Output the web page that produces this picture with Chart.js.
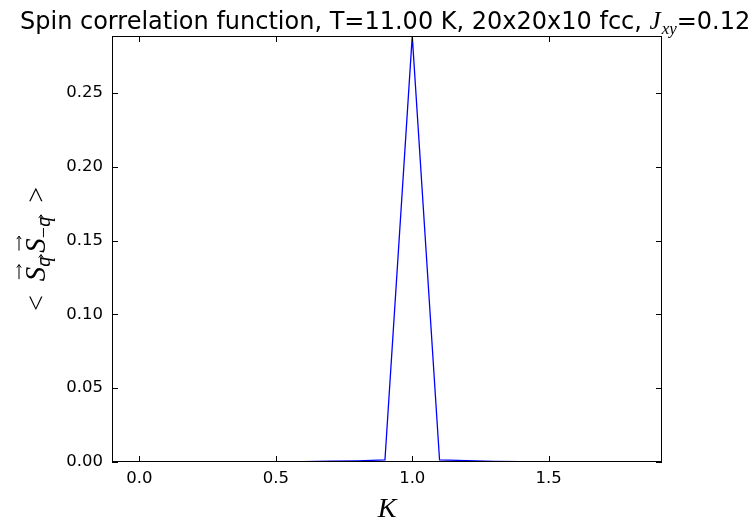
<!DOCTYPE html>
<html>
<head>
<meta charset="utf-8">
<script src="https://cdn.jsdelivr.net/npm/chart.js@4.4.1/dist/chart.umd.min.js"></script>
<style>
  html, body { margin: 0; padding: 0; background: #ffffff; }
  #wrap { width: 748px; height: 524px; position: relative; }
</style>
</head>
<body>
<div id="wrap"><canvas id="chart_spinCorrelation"></canvas></div>
<script>
// wave vector K and the correlation <S_q S_-q>
var kValues = [0.0, 0.1, 0.2, 0.3, 0.4, 0.5, 0.6, 0.7, 0.8, 0.9,
               1.0, 1.1, 1.2, 1.3, 1.4, 1.5, 1.6, 1.7, 1.8, 1.9];
var sqValues = [0.0001, 0.0001, 0.0001, 0.0001, 0.0001, 0.0002, 0.0003, 0.0005, 0.0008, 0.0014,
                0.2885, 0.0014, 0.0009, 0.0004, 0.0003, 0.0002, 0.0001, 0.0001, 0.0001, 0.0001];
var xTickValues = [0.0, 0.5, 1.0, 1.5];
var yTickValues = [0.00, 0.05, 0.10, 0.15, 0.20, 0.25];
var titleText = 'Spin correlation function, T=11.00 K, 20x20x10 fcc, ';

var points = kValues.map(function (k, i) { return { x: k, y: sqValues[i] }; });

function drawArrow(ctx, x0, x1, y) {
    ctx.beginPath();
    ctx.moveTo(x0, y);
    ctx.lineTo(x1, y);
    ctx.moveTo(x1 - 3, y - 2.2);
    ctx.lineTo(x1, y);
    ctx.lineTo(x1 - 3, y + 2.2);
    ctx.stroke();
}

var mplPlugin = {
    id: 'mplFrame',
    beforeDraw: function (chart) {
        var ctx = chart.ctx;
        ctx.save();
        ctx.fillStyle = 'white';
        ctx.fillRect(0, 0, chart.width, chart.height);
        ctx.restore();
    },
    afterDraw: function (chart) {
        var ctx = chart.ctx;
        var a = chart.chartArea;
        var xs = chart.scales.x, ys = chart.scales.y;
        ctx.save();
        ctx.strokeStyle = '#000000';
        ctx.lineWidth = 1;
        ctx.strokeRect(Math.round(a.left) + 0.5, Math.round(a.top) + 0.5,
                       Math.round(a.right - a.left) - 1, Math.round(a.bottom - a.top) - 1);
        // inward ticks on all four sides
        ctx.beginPath();
        xTickValues.forEach(function (v) {
            var px = Math.round(xs.getPixelForValue(v)) + 0.5;
            ctx.moveTo(px, a.bottom); ctx.lineTo(px, a.bottom - 6);
            ctx.moveTo(px, a.top); ctx.lineTo(px, a.top + 6);
        });
        yTickValues.forEach(function (v) {
            var py = Math.round(ys.getPixelForValue(v)) + 0.5;
            ctx.moveTo(a.left, py); ctx.lineTo(a.left + 6, py);
            ctx.moveTo(a.right, py); ctx.lineTo(a.right - 6, py);
        });
        ctx.stroke();

        // title (runs off the right edge like the original)
        ctx.fillStyle = '#000000';
        ctx.textBaseline = 'alphabetic';
        ctx.textAlign = 'left';
        ctx.font = '24px "DejaVu Sans"';
        var tx = 20, ty = 29;
        ctx.fillText(titleText, tx, ty);
        tx += ctx.measureText(titleText).width;
        ctx.font = 'italic 25px "Liberation Serif"';
        ctx.fillText('J', tx, ty);
        tx += ctx.measureText('J').width + 1;
        ctx.font = 'italic 17px "Liberation Serif"';
        ctx.fillText('xy', tx, ty + 5);
        tx += ctx.measureText('xy').width;
        ctx.font = '24px "DejaVu Sans"';
        ctx.fillText('=0.12', tx, ty);

        // x label
        ctx.font = 'italic 28px "Liberation Serif"';
        ctx.textAlign = 'center';
        ctx.fillText('K', (a.left + a.right) / 2, 517);

        // y label, rotated
        ctx.translate(45, (a.top + a.bottom) / 2);
        ctx.rotate(-Math.PI / 2);
        ctx.textAlign = 'left';
        var parts = [
            { t: '<', f: '28px "Liberation Serif"', dy: 0, after: 14 },
            { t: 'S', f: 'italic 29px "Liberation Serif"', dy: 0, arrow: -23 },
            { t: 'q', f: 'italic 20px "Liberation Serif"', dy: 5, arrow: -6, after: 4 },
            { t: 'S', f: 'italic 29px "Liberation Serif"', dy: 0, arrow: -23 },
            { t: '\u2212', f: '20px "Liberation Serif"', dy: 5 },
            { t: 'q', f: 'italic 20px "Liberation Serif"', dy: 5, arrow: -6, after: 14 },
            { t: '>', f: '28px "Liberation Serif"', dy: 0 }
        ];
        var total = 0;
        parts.forEach(function (p) {
            ctx.font = p.f;
            p.w = ctx.measureText(p.t).width;
            total += p.w + (p.after || 0);
        });
        var cx = -total / 2;
        parts.forEach(function (p) {
            ctx.font = p.f;
            ctx.fillText(p.t, cx, p.dy);
            if (p.arrow) {
                ctx.lineWidth = 1;
                drawArrow(ctx, cx + 2, cx + p.w + 2, p.arrow + p.dy - 3);
            }
            cx += p.w + (p.after || 0);
        });
        ctx.restore();
    }
};

var chart_spinCorrelation = new Chart(document.getElementById('chart_spinCorrelation'), {
    type: 'line',
    data: {
        datasets: [
            {
                label: 'S(q)',
                data: points,
                borderColor: '#0000ff',
                borderWidth: 1.3,
                pointRadius: 0,
                tension: 0,
                fill: false
            }
        ]
    },
    options: {
        animation: false,
        responsive: true,
        maintainAspectRatio: false,
        layout: {
            padding: { left: 0, right: 86, top: 36, bottom: 0 }
        },
        plugins: {
            legend: { display: false },
            title: { display: false },
            tooltip: { enabled: false }
        },
        scales: {
            x: {
                type: 'linear',
                min: -0.1,
                max: 1.915,
                grid: { display: false, drawTicks: false },
                border: { display: false },
                afterBuildTicks: function (scale) {
                    scale.ticks = xTickValues.map(function (v) { return { value: v }; });
                },
                afterFit: function (scale) { scale.height = 62; },
                ticks: {
                    padding: 7,
                    color: '#000000',
                    font: { family: '"DejaVu Sans"', size: 16.5 },
                    maxRotation: 0,
                    callback: function (v) { return Number(v).toFixed(1); }
                }
            },
            y: {
                type: 'linear',
                min: 0,
                max: 0.2885,
                grid: { display: false, drawTicks: false },
                border: { display: false },
                afterBuildTicks: function (scale) {
                    scale.ticks = yTickValues.map(function (v) { return { value: v }; });
                },
                afterFit: function (scale) { scale.width = 112; },
                ticks: {
                    padding: 9,
                    color: '#000000',
                    font: { family: '"DejaVu Sans"', size: 16.5 },
                    callback: function (v) { return Number(v).toFixed(2); }
                }
            }
        }
    },
    plugins: [mplPlugin]
});
</script>
</body>
</html>
